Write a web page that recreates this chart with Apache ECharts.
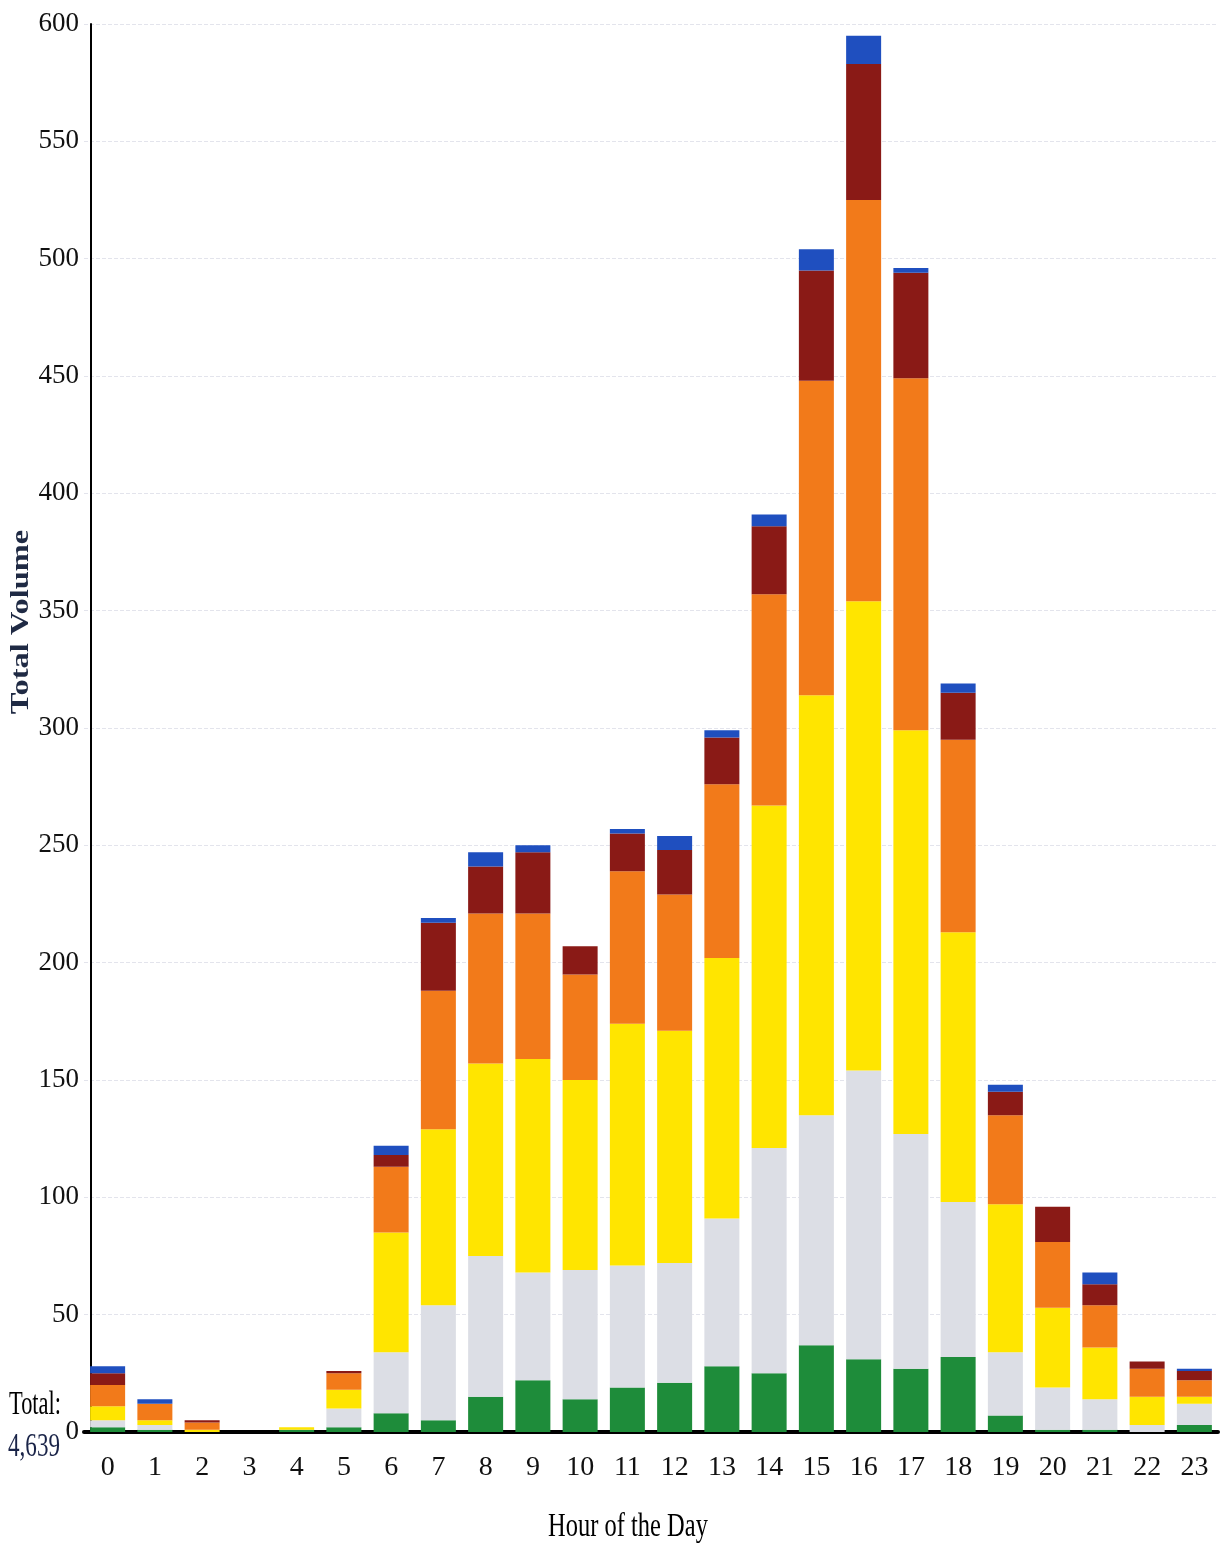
<!DOCTYPE html>
<html>
<head>
<meta charset="utf-8">
<script src="https://cdn.jsdelivr.net/npm/echarts@6/dist/echarts.min.js"></script>
<style>
html,body{margin:0;padding:0;background:#fff;}
#chart{width:1231px;height:1546px;}
</style>
</head>
<body>
<div id="chart"></div>
<script>
const hours = ['0','1','2','3','4','5','6','7','8','9','10','11','12','13','14','15','16','17','18','19','20','21','22','23'];
const greenVals   = [2,1,0,0,1,2,8,5,15,22,14,19,21,28,25,37,31,27,32,7,1,1,0,3];
const grayVals    = [3,2,0,0,0,8,26,49,60,46,55,52,51,63,96,98,123,100,66,27,18,13,3,9];
const yellowVals  = [6,2,1,0,1,8,51,75,82,91,81,103,99,111,146,179,200,172,115,63,34,22,12,3];
const orangeVals  = [9,7,3,0,0,7,28,59,64,62,45,65,58,74,90,134,171,150,82,38,28,18,12,7];
const darkRedVals = [5,0,1,0,0,1,5,29,20,26,12,16,19,20,29,47,58,45,20,10,15,9,3,4];
const blueVals    = [3,2,0,0,0,0,4,2,6,3,0,2,6,3,5,9,12,2,4,3,0,5,0,1];
const yTicks = [0,50,100,150,200,250,300,350,400,450,500,550,600];
const totalLabel = '4,639';

const seriesDefs = [
  {name:'Green', data:greenVals, color:'#1e8c3a'},
  {name:'Gray', data:grayVals, color:'#dcdee5'},
  {name:'Yellow', data:yellowVals, color:'#ffe500'},
  {name:'Orange', data:orangeVals, color:'#f27a1a'},
  {name:'Dark Red', data:darkRedVals, color:'#8a1a16'},
  {name:'Blue', data:blueVals, color:'#1f4fbf'}
];

const chart = echarts.init(document.getElementById('chart'), null, {renderer:'canvas'});
const serif = '"Liberation Serif", "DejaVu Serif", serif';

const option = {
  animation:false,
  backgroundColor:'#ffffff',
  grid:{left:84, right:13, top:24, bottom:114},
  xAxis:{
    type:'category',
    data:hours,
    boundaryGap:true,
    axisLine:{show:true, lineStyle:{color:'#000', width:4}},
    axisTick:{show:false},
    axisLabel:{fontFamily:serif, fontSize:28, color:'#111', margin:22},
    splitLine:{show:false}
  },
  yAxis:{
    type:'value',
    min:yTicks[0], max:yTicks[yTicks.length-1], interval:50,
    offset:-7,
    axisLine:{show:true, lineStyle:{color:'#000', width:2}},
    axisTick:{show:false},
    axisLabel:{fontFamily:serif, fontSize:27, color:'#111', margin:12},
    splitLine:{show:true, lineStyle:{color:'#e3e4ec', width:1, type:'dashed'}}
  },
  series: seriesDefs.map(s => ({
    name:s.name,
    type:'bar',
    stack:'total',
    data:s.data,
    barWidth:35,
    itemStyle:{color:s.color},
    emphasis:{disabled:true}
  })),
  graphic:[
    {type:'text', x:22, y:622, rotation:Math.PI/2, scaleX:1.3,
     style:{text:'Total Volume', font:'bold 25px '+serif, fill:'#1f2a44', textAlign:'center', textVerticalAlign:'middle'}},
    {type:'text', x:628, y:1527, scaleX:0.72,
     style:{text:'Hour of the Day', font:'34px '+serif, fill:'#000', textAlign:'center', textVerticalAlign:'middle'}},
    {type:'text', x:35, y:1405, scaleX:0.66,
     style:{text:'Total:', font:'34px '+serif, fill:'#000', textAlign:'center', textVerticalAlign:'middle'}},
    {type:'text', x:34, y:1447, scaleX:0.68,
     style:{text:totalLabel, font:'34px '+serif, fill:'#1a2448', textAlign:'center', textVerticalAlign:'middle'}}
  ]
};
chart.setOption(option);
</script>
</body>
</html>
